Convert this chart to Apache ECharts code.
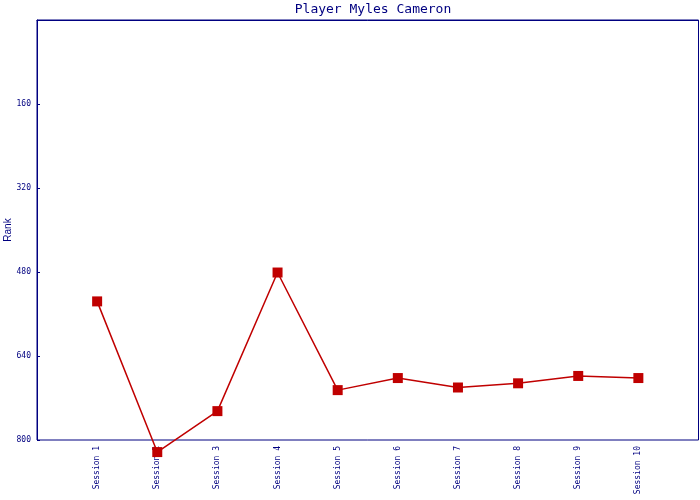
<!DOCTYPE html>
<html><head><meta charset="utf-8">
<script src="https://cdn.jsdelivr.net/npm/echarts@6/dist/echarts.min.js"></script>
<style>html,body{margin:0;padding:0;background:#fff}#c{width:700px;height:500px}</style>
</head><body><div id="c"></div>
<script>
const titleText = 'Player Myles Cameron';
const categories = ['', 'Session 1','Session 2','Session 3','Session 4','Session 5','Session 6','Session 7','Session 8','Session 9','Session 10', ''];
const rankValues = [null, 536, 823, 745, 481, 705, 682, 700, 692, 678, 682, null];
const yTicks = [0, 160, 320, 480, 640, 800];
const yName = 'Rank';

const navy = '#000080';
const red = '#C00000';
const chart = echarts.init(document.getElementById('c'));
chart.setOption({
  animation: false,
  backgroundColor: '#fff',
  title: {
    text: titleText, left: 368, textAlign: 'center', top: -2,
    textStyle: { fontFamily: 'DejaVu Sans Mono', fontSize: 13, fontWeight: 'normal', color: navy }
  },
  grid: { left: 37, top: 20, right: 1.5, bottom: 60, show: true, borderColor: navy, borderWidth: 1, containLabel: false, outerBoundsMode: 'none' },
  xAxis: {
    type: 'category', data: categories, boundaryGap: false,
    axisLine: { lineStyle: { color: navy, width: 1 } },
    axisTick: { show: false },
    axisLabel: {
      rotate: 90, interval: 0, margin: 6, color: navy,
      fontFamily: 'DejaVu Sans Mono', fontSize: 8
    },
    splitLine: { show: false }
  },
  yAxis: {
    type: 'value', inverse: true, min: yTicks[0], max: yTicks[yTicks.length - 1], interval: 160,
    name: yName, nameLocation: 'middle', nameGap: 24, nameRotate: 90, nameMoveOverlap: false,
    nameTextStyle: { color: navy, fontFamily: 'Liberation Sans', fontSize: 10 },
    axisLine: { show: true, lineStyle: { color: navy, width: 1 } },
    axisTick: { show: true, inside: true, length: 3, lineStyle: { color: navy } },
    axisLabel: {
      color: navy, fontFamily: 'DejaVu Sans Mono', fontSize: 8, margin: 6,
      formatter: v => (v === 0 ? '' : String(v))
    },
    splitLine: { show: false }
  },
  series: [{
    type: 'line', data: rankValues, clip: false, connectNulls: false,
    symbol: 'rect', symbolSize: 10,
    lineStyle: { color: red, width: 1.5 },
    itemStyle: { color: red }
  }]
});
</script></body></html>
